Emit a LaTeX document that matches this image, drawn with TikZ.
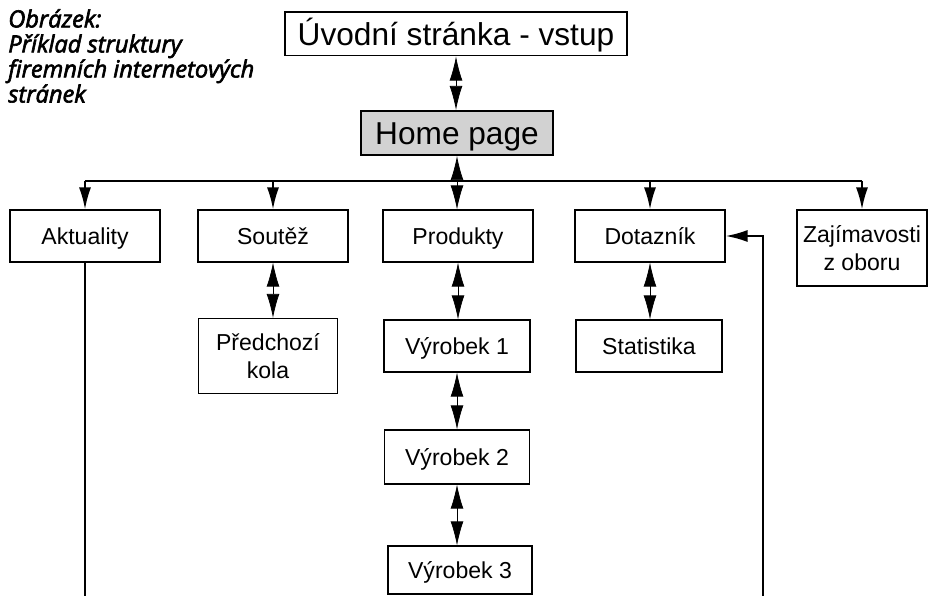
\documentclass[tikz,border=0pt]{standalone}
\usepackage{fontspec}
\setmainfont{Liberation Sans}
\newfontfamily\capfont[ItalicFeatures={FakeBold=2.6}]{Open Sans}
\usetikzlibrary{arrows.meta}
\tikzset{
  page box/.style={
    draw,
    line width=0.8pt,
    fill=white,
    inner sep=2pt,
    align=center,
    font=\fontsize{16.4}{20}\selectfont,
    minimum width=3.75cm,
    minimum height=1.3cm
  },
  one line/.style={
    text height=16.8pt,
    text depth=4pt
  },
  top box/.style={
    draw,
    line width=0.8pt,
    inner sep=2pt,
    text height=21.6pt,
    text depth=5.6pt,
    font=\fontsize{22.5}{26}\selectfont
  },
  home box/.style={
    top box,
    line width=1.6pt,
    fill=gray!35
  },
  both link/.style={
    {Latex[length=6mm,width=3.2mm]}-{Latex[length=6mm,width=3.2mm]},
    line width=0.5pt
  },
  feed/.style={
    -{Latex[length=5.5mm,width=3mm]},
    line width=1.4pt
  },
  bus line/.style={
    line width=1.6pt
  },
  caption/.style={
    align=left,
    inner sep=0pt,
    font=\capfont\itshape\fontsize{16.8}{17.8}\selectfont
  }
}

\begin{document}
\begin{tikzpicture}[x=0.025cm, y=-0.025cm]
    % rozmery jako v predloze (928 x 596)
    \useasboundingbox (0,0) rectangle (928,596);

    % popisek obrazku
    \node[caption, anchor=north west] (cap) at (8,9)
      {Obrázek:\\Příklad struktury\\firemních internetových\\stránek};

    % horni cast
    \node[top box, minimum width=8.55cm, minimum height=1.05cm] (uvod) at (456,34) {Úvodní stránka - vstup};
    \node[home box, minimum width=4.8cm, minimum height=1.0cm] (home) at (457,133) {Home page};

    % prvni uroven
    \node[page box, one line] (akt)  at (85,236)  {Aktuality};
    \node[page box, one line] (sout) at (273,236) {Soutěž};
    \node[page box, one line] (prod) at (458,236) {Produkty};
    \node[page box, one line] (dot)  at (650,236) {Dotazník};
    \node[page box, minimum width=3.25cm, minimum height=1.9cm, inner sep=1pt] (zaj) at (862,248) {Zajímavosti\\z oboru};

    % druha uroven
    \node[page box, minimum width=3.475cm, minimum height=1.875cm] (pred) at (268,356) {Předchozí\\kola};
    \node[page box, one line, minimum width=3.65cm] (vyr1) at (457,346) {Výrobek 1};
    \node[page box, one line, minimum width=3.65cm] (stat) at (649,346) {Statistika};
    \node[page box, one line, minimum width=3.625cm, minimum height=1.35cm] (vyr2) at (457,457) {Výrobek 2};
    \node[page box, one line, minimum width=3.6cm, minimum height=1.2cm] (vyr3) at (460,570) {Výrobek 3};

    % sbernice pod Home page
    \coordinate (bus) at (0,181);
    \draw[bus line] (akt.north |- bus) -- (zaj.north |- bus);
    \foreach \n in {akt,sout,dot,zaj} {
      \draw[feed] (\n.north |- bus) -- (\n.north);
    }

    % obousmerne odkazy
    \draw[both link] (uvod.south) -- (uvod.south |- home.north);
    \draw[both link] (home.south) -- (home.south |- prod.north);
    \draw[both link] (sout.south) -- (sout.south |- pred.north);
    \draw[both link] (prod.south) -- (prod.south |- vyr1.north);
    \draw[both link] (dot.south) -- (dot.south |- stat.north);
    \draw[both link] (vyr1.south) -- (vyr1.south |- vyr2.north);
    \draw[both link] (vyr2.south) -- (vyr2.south |- vyr3.north);

    % navrat do dotazniku
    \coordinate (akt-end) at (86,596);
    \coordinate (ret-end) at (763,596);
    \draw[bus line] (akt.south) -- (akt.south |- akt-end);
    \draw[feed] (ret-end) |- (dot.east);

  \end{tikzpicture}
\end{document}
